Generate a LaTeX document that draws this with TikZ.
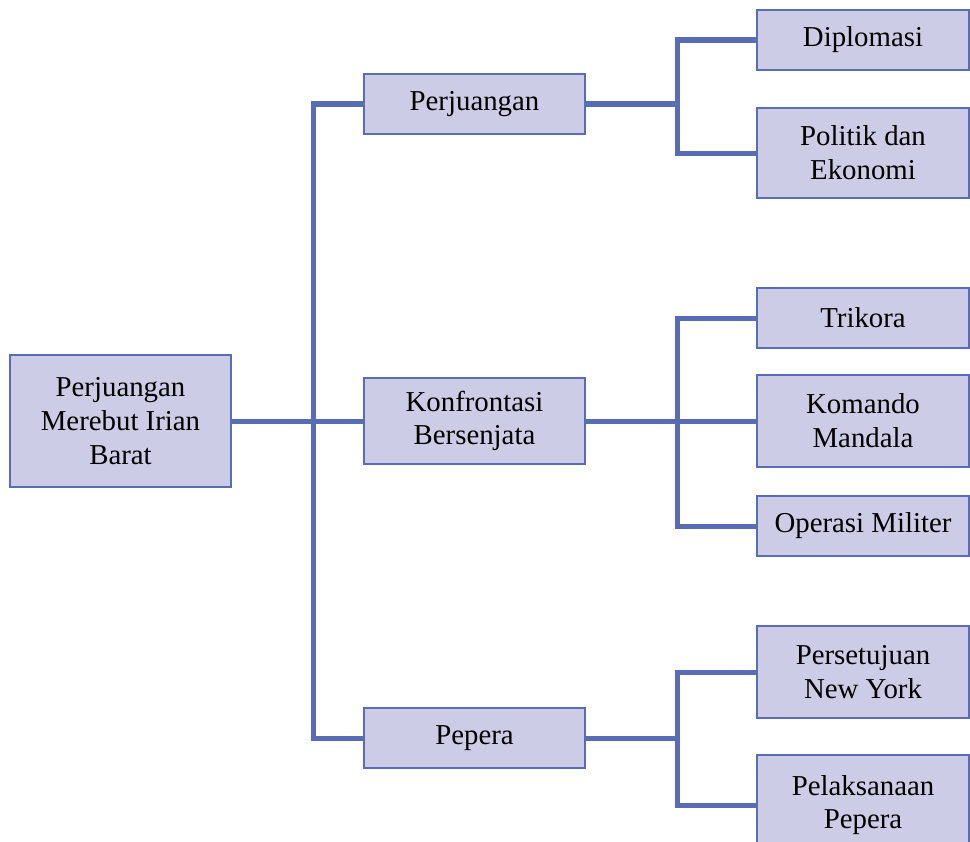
\documentclass[tikz,border=0pt]{standalone}
\usepackage{fontspec}
\setmainfont{Liberation Serif}
\definecolor{boxfill}{RGB}{204,204,230}
\definecolor{linkblue}{RGB}{90,108,180}

\begin{document}
\begin{tikzpicture}[x=0.025cm, y=-0.025cm,
    box/.style={draw=linkblue, line width=0.05cm, fill=boxfill, inner sep=0pt,
        align=center, font=\fontsize{20.5}{24}\selectfont},
    midbox/.style={box, minimum width=5.525cm},
    leafbox/.style={box, minimum width=5.3cm},
    link/.style={draw=linkblue, line width=0.125cm}]
    \useasboundingbox (0,0) rectangle (970,841);
    \clip (0,0) rectangle (970,841);

    \node[box, minimum width=5.525cm, minimum height=3.275cm] (root) at (120.5,421) {Perjuangan\\Merebut Irian\\Barat};

    \node[midbox, minimum height=1.5cm] (perj) at (474.5,104) {Perjuangan};
    \node[midbox, minimum height=2.125cm] (konf) at (474.5,421) {Konfrontasi\\Bersenjata};
    \node[midbox, minimum height=1.5cm] (pep) at (474.5,738) {Pepera};

    \node[leafbox, minimum height=1.5cm] (dipl) at (863,40) {Diplomasi};
    \node[leafbox, minimum height=2.25cm] (polit) at (863,153) {Politik dan\\Ekonomi};
    \node[leafbox, minimum height=1.5cm] (trik) at (863,318) {Trikora};
    \node[leafbox, minimum height=2.275cm] (koma) at (863,421) {Komando\\Mandala};
    \node[leafbox, minimum height=1.5cm] (oper) at (863,526) {Operasi Militer};
    \node[leafbox, minimum height=2.275cm] (pers) at (863,672) {Persetujuan\\New York};
    \node[leafbox, minimum height=2.5cm] (pela) at (863,805) {Pelaksanaan\\Pepera};

    \coordinate (jl) at (313,421);
    \coordinate (jr1) at (677,104);
    \coordinate (jr2) at (677,421);
    \coordinate (jr3) at (677,738);

    \draw[link] (root.east) -- (konf.west);
    \draw[link] (perj.west) -| (jl) |- (pep.west);

    \draw[link] (perj.east) -- (jr1);
    \draw[link] (dipl.west) -| (jr1) |- (polit.west);

    \draw[link] (konf.east) -- (koma.west);
    \draw[link] (trik.west) -| (jr2) |- (oper.west);

    \draw[link] (pep.east) -- (jr3);
    \draw[link] (pers.west) -| (jr3) |- (pela.west);
\end{tikzpicture}
\end{document}
